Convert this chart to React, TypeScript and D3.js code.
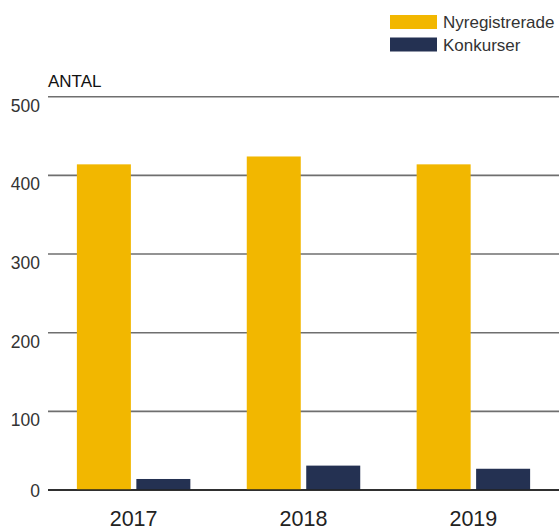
import React from "react";
import * as d3 from "d3";

const years = ["2017", "2018", "2019"];
const seriesNames = ["Nyregistrerade", "Konkurser"];
const nyregistrerade = [414, 424, 414];
const konkurser = [14, 31, 27];
const yTicks = [0, 100, 200, 300, 400, 500];
const colors = ["#F2B700", "#243152"];

const W = 559;
const H = 531;
const FONT = "'Liberation Sans', Arial, Helvetica, sans-serif";

const App = () => {
  const values = [nyregistrerade, konkurser];

  // scales
  const y = d3.scaleLinear().domain([0, 500]).range([490, 96.7]);
  const x0 = d3
    .scaleBand()
    .domain(years)
    .range([48, W])
    .paddingInner(0.332)
    .paddingOuter(0.17);
  const x1 = d3
    .scaleBand()
    .domain(seriesNames)
    .range([0, x0.bandwidth()])
    .paddingInner(0.092);

  return (
    <svg
      width={W}
      height={H}
      style={{ position: "absolute", left: 0, top: 0, background: "#fff" }}
      fontFamily={FONT}
    >
      {/* legend */}
      {seriesNames.map((name, i) => (
        <g key={name} transform={`translate(390,${15 + i * 22.5})`}>
          <rect width={47} height={14} fill={colors[i]} />
          <text x={53} y={13} fontSize={17} fill="#333">
            {name}
          </text>
        </g>
      ))}

      <text x={48} y={87} fontSize={17} fill="#111">
        ANTAL
      </text>

      {/* gridlines + tick labels */}
      {yTicks.map((t) => (
        <g key={t}>
          <line
            x1={48}
            x2={W}
            y1={y(t)}
            y2={y(t)}
            stroke={t === 0 ? "#222" : "#6f6f6f"}
            strokeWidth={1.6}
          />
          <text
            x={40}
            y={t === 0 ? y(t) + 7 : y(t) + 15}
            textAnchor="end"
            fontSize={17.5}
            fill="#333"
          >
            {t}
          </text>
        </g>
      ))}

      {/* bars */}
      {years.map((yr, yi) => (
        <g key={yr} transform={`translate(${x0(yr)},0)`}>
          {seriesNames.map((s, si) => (
            <rect
              key={s}
              x={x1(s)}
              y={y(values[si][yi])}
              width={x1.bandwidth()}
              height={y(0) - y(values[si][yi])}
              fill={colors[si]}
            />
          ))}
        </g>
      ))}

      {/* redraw zero line over bars */}
      <line x1={48} x2={W} y1={y(0)} y2={y(0)} stroke="#222" strokeWidth={1.6} />

      {/* year labels */}
      {years.map((yr) => (
        <text
          key={yr}
          x={(x0(yr) ?? 0) + x0.bandwidth() / 2}
          y={526}
          textAnchor="middle"
          fontSize={21.5}
          fill="#222"
        >
          {yr}
        </text>
      ))}
    </svg>
  );
};

export default App;
